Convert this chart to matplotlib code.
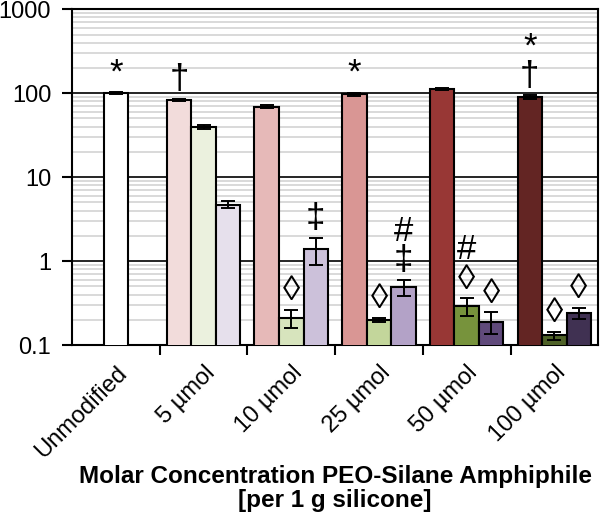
import matplotlib.pyplot as plt
import numpy as np
from matplotlib.ticker import LogLocator, NullFormatter

plt.rcParams['font.family'] = ['Liberation Sans', 'DejaVu Sans']

categories = ['Unmodified', '5 µmol', '10 µmol', '25 µmol', '50 µmol', '100 µmol']

# unmodified control (single bar)
unmod_val = [100]
unmod_err = [3]

# PEO-silane groups (5, 10, 25, 50, 100 µmol)
pink_val = [83, 69, 97, 111, 90]
pink_err = [2, 3, 4, 3, 4]
green_val = [39.5, 0.21, 0.20, 0.29, 0.13]
green_err = [2, 0.05, 0.01, 0.07, 0.015]
purple_val = [4.7, 1.4, 0.49, 0.19, 0.24]
purple_err = [0.45, 0.5, 0.11, 0.055, 0.038]

pink_colors = ['#f2dcdb', '#e6b9b8', '#d99694', '#983735', '#632523']
green_colors = ['#ebf1de', '#d7e4bd', '#c3d69b', '#77933c', '#4f6228']
purple_colors = ['#e6e0ec', '#ccc1da', '#b3a2c7', '#604a7b', '#403152']

# significance marks: (category index, series, text)
marks = [
    (0, 'unmod', '*'),
    (1, 'pink', '†'),
    (2, 'green', '◊'),
    (2, 'purple', '‡'),
    (3, 'pink', '*'),
    (3, 'green', '◊'),
    (3, 'purple', '#\n‡'),
    (4, 'green', '#\n◊'),
    (4, 'purple', '◊'),
    (5, 'pink', '*\n†'),
    (5, 'green', '◊'),
    (5, 'purple', '◊'),
]

fig, ax = plt.subplots(figsize=(6, 5.15), dpi=100)
fig.subplots_adjust(left=0.12, right=0.997, top=0.982, bottom=0.33)

ax.set_yscale('log')
w = 0.28
x = np.arange(1, 6)
ekw = dict(elinewidth=1.4, capthick=1.4, ecolor='black')
bar_kw = dict(width=w, edgecolor='black', linewidth=1.5, capsize=5,
              error_kw=ekw, zorder=3)

ax.bar([0], unmod_val, yerr=unmod_err, color='white', **bar_kw)
ax.bar(x - w, pink_val, yerr=pink_err, color=pink_colors, **bar_kw)
ax.bar(x, green_val, yerr=green_err, color=green_colors, **bar_kw)
ax.bar(x + w, purple_val, yerr=purple_err, color=purple_colors, **bar_kw)

offsets = {'pink': -w, 'green': 0, 'purple': w}
data = {'pink': (pink_val, pink_err), 'green': (green_val, green_err),
        'purple': (purple_val, purple_err)}
for gi, s, txt in marks:
    if s == 'unmod':
        xi, top = 0, unmod_val[0] + unmod_err[0]
    else:
        v, e = data[s]
        xi, top = gi + offsets[s], v[gi - 1] + e[gi - 1]
    ax.annotate(txt, (xi, top), xytext=(0, 2), textcoords='offset points',
                ha='center', va='bottom', fontsize=25, linespacing=0.85)

ax.set_ylim(0.1, 1000)
ax.set_xlim(-0.5, 5.5)
ax.set_yticks([0.1, 1, 10, 100, 1000], ['0.1', '1', '10', '100', '1000'])
ax.yaxis.set_minor_locator(LogLocator(base=10, subs=np.arange(2, 10)))
ax.yaxis.set_minor_formatter(NullFormatter())
ax.tick_params(axis='y', which='major', labelsize=17, length=7, width=1.5, pad=8)
ax.tick_params(axis='y', which='minor', length=0)

ax.yaxis.grid(True, which='major', color='black', linewidth=1.2, zorder=1)
ax.yaxis.grid(True, which='minor', color='#d9d9d9', linewidth=1.4, zorder=0)
ax.set_axisbelow(True)

ax.set_xticks(range(6))
ax.set_xticklabels(categories, rotation=45, ha='right', rotation_mode='anchor', fontsize=17)
ax.set_xticks(np.arange(0.5, 5.5, 1), minor=True)
ax.tick_params(axis='x', which='major', length=0, pad=12)
ax.tick_params(axis='x', which='minor', length=7, width=1.5)

for sp in ax.spines.values():
    sp.set_linewidth(1.5)

ax.set_xlabel('Molar Concentration PEO-Silane Amphiphile\n[per 1 g silicone]',
              fontsize=17.5, fontweight='bold', labelpad=2, linespacing=1.05)

fig.savefig('out.png', dpi=100)
